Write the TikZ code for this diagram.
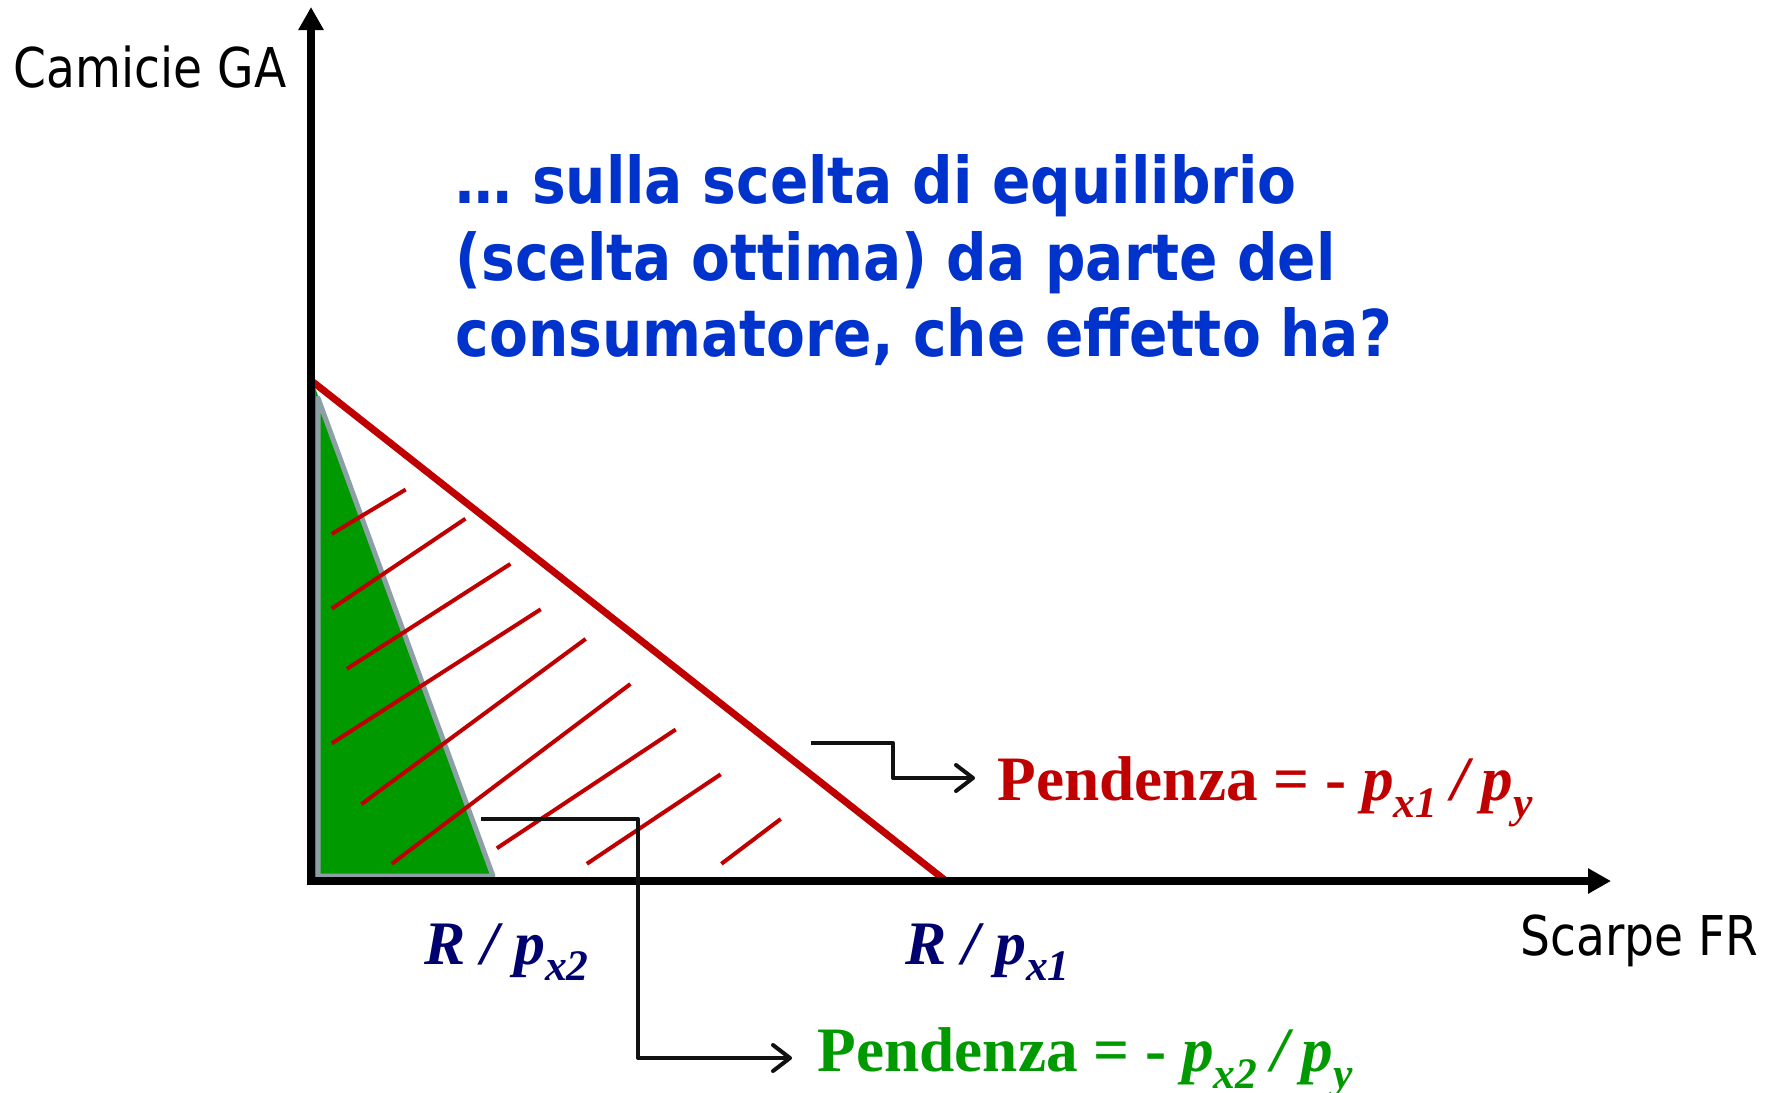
\documentclass[tikz,border=0pt]{standalone}
\usepackage{fontspec}
\setmainfont{Liberation Serif}
\newfontfamily\axisfont{DejaVu Sans}[FakeStretch=0.86]
\newfontfamily\titlefont{DejaVu Sans}[FakeStretch=0.878]
\usetikzlibrary{arrows.meta}
\definecolor{titleblue}{RGB}{0,51,204}
\definecolor{budgetred}{RGB}{192,0,0}
\definecolor{fillgreen}{RGB}{0,153,0}
\definecolor{outlinegray}{RGB}{140,160,166}
\definecolor{navyblue}{RGB}{0,0,110}
\definecolor{connblack}{RGB}{17,17,17}
\newcommand{\sbs}[1]{\raisebox{-0.27em}{\fontsize{12.4pt}{13pt}\selectfont #1}}
\newcommand{\slashsep}{\hspace{0.22em}/\hspace{0.2em}}
\tikzset{
  axisline/.style={line width=0.8mm, black, -{Triangle[length=2.3mm,width=2.4mm]}},
  budget/.style={line width=0.7mm, budgetred},
  hatchline/.style={line width=0.4mm, budgetred},
  conn/.style={line width=0.4mm, connblack, line join=round, -{Straight Barb[length=1.7mm,width=2.6mm,round]}},
  axislabel/.style={anchor=base west, inner sep=0, font=\axisfont\fontsize{15.6pt}{18pt}\selectfont},
  titleline/.style={anchor=base west, inner sep=0, text=titleblue, font=\titlefont\bfseries\fontsize{18.35pt}{22pt}\selectfont},
  slopelabel/.style={anchor=base west, inner sep=0, font=\fontsize{18pt}{20pt}\selectfont\bfseries},
  intercept/.style={anchor=base west, inner sep=0, text=navyblue, font=\fontsize{17.6pt}{20pt}\selectfont\bfseries\itshape}
}
\begin{document}
\begin{tikzpicture}[x=0.1mm,y=-0.1mm]
\fill[white] (0,0) rectangle (1776,1092);
\useasboundingbox (0,0) rectangle (1776,1092);
% key points
\coordinate (O) at (311,881);
\coordinate (ytip) at (311,7);
\coordinate (xtip) at (1611,881);
\coordinate (A) at (313,382);
\coordinate (B1) at (946,881);
\coordinate (B2) at (495,881);
% green set
\fill[fillgreen] (309,384) -- (A) -- (B2) -- (309,881) -- cycle;
\draw[outlinegray, line width=0.5mm, line join=round] (318,398) -- (493,876) -- (318,876) -- cycle;
% hatching
\draw[hatchline] (331.8,533.9) -- (405.7,489.5);
\draw[hatchline] (331.8,608.6) -- (465.4,518.7);
\draw[hatchline] (346.8,668.9) -- (510.4,563.9);
\draw[hatchline] (331.8,743.3) -- (540.7,609.3);
\draw[hatchline] (361.4,804.2) -- (585.7,638.9);
\draw[hatchline] (391.8,863.8) -- (630.4,684.0);
\draw[hatchline] (496.8,848.3) -- (675.7,729.5);
\draw[hatchline] (586.8,863.8) -- (720.7,774.3);
\draw[hatchline] (721.4,863.8) -- (780.7,819.0);
% budget line
\draw[budget] (A) -- (B1);
% axes
\draw[axisline] (311,885) -- (ytip);
\draw[axisline] (307,881) -- (xtip);
% labels
\node[axislabel] (ylab) at (13,87) {Camicie GA};
\node[axislabel] (xlab) at (1520,955) {Scarpe FR};
\node[titleline] (t1) at (455,203) {… sulla scelta di equilibrio};
\node[titleline] (t2) at (455,280) {(scelta ottima) da parte del};
\node[titleline] (t3) at (455,356) {consumatore, che effetto ha?};
\node[intercept] (r2) at (424,964) {R / p\sbs{x2}};
\node[intercept] (r1) at (905,964) {R / p\sbs{x1}};
\node[slopelabel, text=budgetred] (s1) at (997,800) {Pendenza = - {\itshape p\sbs{x1}\slashsep p\sbs{y}}};
\node[slopelabel, text=fillgreen] (s2) at (817,1071) {Pendenza = - {\itshape p\sbs{x2}\slashsep p\sbs{y}}};
% connectors
\coordinate (c1a) at (811,743);
\coordinate (c1b) at (893,778);
\coordinate (c1tip) at (975,778);
\coordinate (c2a) at (481,819);
\coordinate (c2b) at (638,1058);
\coordinate (c2tip) at (792,1058);
\draw[conn] (c1a) -| (c1b) -- (c1tip);
\draw[conn] (c2a) -| (c2b) -- (c2tip);
\end{tikzpicture}
\end{document}
